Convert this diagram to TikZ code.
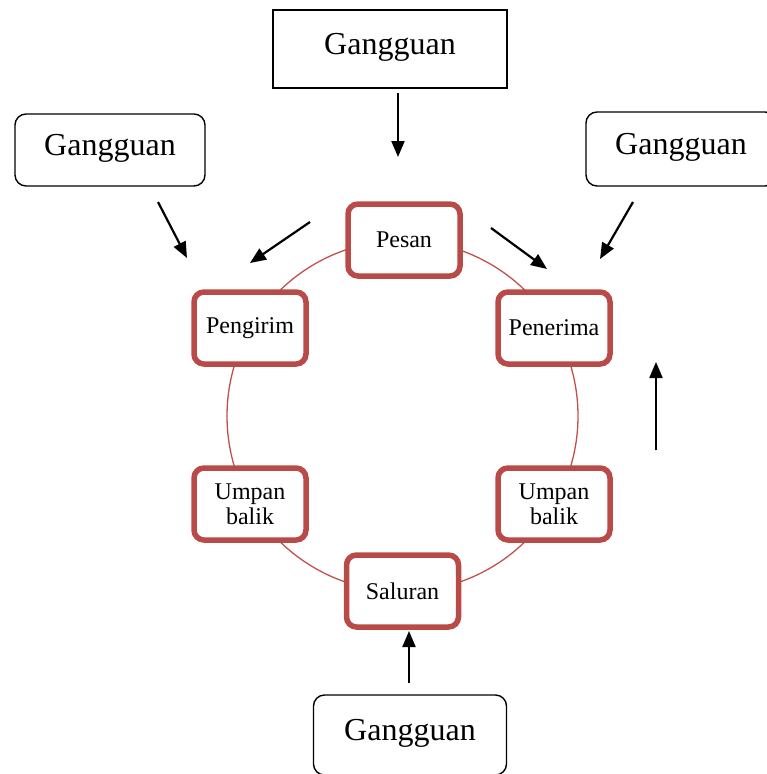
\documentclass[tikz,border=0pt]{standalone}
\usepackage{fontspec}
\setmainfont{Liberation Serif}
\usepackage{tikz}
\usetikzlibrary{arrows.meta}
\definecolor{redline}{RGB}{184,75,72}
\definecolor{ringline}{RGB}{192,80,77}

\begin{document}
\begin{tikzpicture}[x=1pt, y=-1pt,
  part/.style = {draw=redline, line width=5.5pt, rounded corners=10pt, fill=white, minimum width=112pt, minimum height=72pt, align=center, font=\fontsize{24}{25}\selectfont, inner sep=2pt},
  noise/.style = {draw, line width=1.4pt, rounded corners=11pt, minimum width=190pt, minimum height=72pt, font=\fontsize{32}{32}\selectfont, text depth=10pt},
  arr/.style = {-{Triangle[length=16pt, width=13pt]}, line width=2.2pt}]
\useasboundingbox (0,0) rectangle (767,774);
\draw[ringline, line width=1.3pt] (402.5,416) circle (175.5);

\node[part] (P) at (404,240) {Pesan};
\node[part] (S) at (250,328) {Pengirim};
\node[part] (R) at (554,328) {Penerima};
\node[part] (UL) at (250,504) {Umpan\\balik};
\node[part] (UR) at (554,504) {Umpan\\balik};
\node[part] (C) at (402.5,591) {Saluran};

\node[noise, rounded corners=0pt, minimum width=234pt, minimum height=78pt] (G1) at (390,49) {Gangguan};
\node[noise] (G2) at (110,150) {Gangguan};
\node[noise, minimum height=74pt] (G3) at (681,149) {Gangguan};
\node[noise, minimum width=193pt, minimum height=80pt] (G4) at (410,735) {Gangguan};

\coordinate (a1) at (398,93);   \coordinate (b1) at (398,157);
\coordinate (a2) at (158,202);  \coordinate (b2) at (187,258);
\coordinate (a3) at (310,222);  \coordinate (b3) at (250,263);
\coordinate (a4) at (491,228);  \coordinate (b4) at (547,269);
\coordinate (a5) at (633,202);  \coordinate (b5) at (600,259);
\coordinate (a6) at (656,450);  \coordinate (b6) at (656,362);
\coordinate (a7) at (409,683);  \coordinate (b7) at (409,631);

\draw[arr] (a1) -- (b1);
\draw[arr] (a2) -- (b2);
\draw[arr] (a3) -- (b3);
\draw[arr] (a4) -- (b4);
\draw[arr] (a5) -- (b5);
\draw[arr] (a6) -- (b6);
\draw[arr] (a7) -- (b7);
\end{tikzpicture}
\end{document}
